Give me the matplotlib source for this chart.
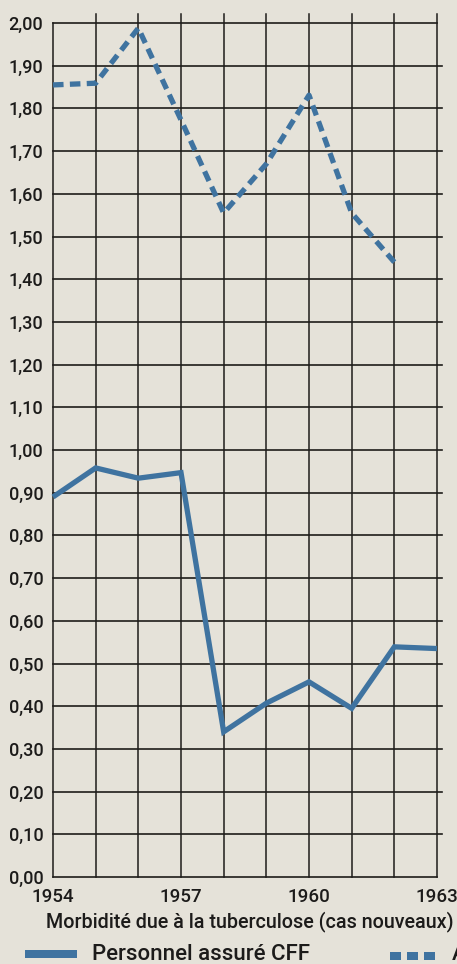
import matplotlib
matplotlib.use("Agg")
import matplotlib.pyplot as plt
from matplotlib.patches import Rectangle

years = [1954, 1955, 1956, 1957, 1958, 1959, 1960, 1961, 1962, 1963]
cff_values = [0.89, 0.958, 0.934, 0.947, 0.340, 0.407, 0.457, 0.395, 0.539, 0.535]
other_years = [1954, 1955, 1956, 1957, 1958, 1959, 1960, 1961, 1962]
other_values = [1.855, 1.859, 1.988, 1.773, 1.555, 1.67, 1.831, 1.555, 1.44]
y_ticks = [i / 10 for i in range(0, 21)]
y_labels = [f"{v:.2f}".replace(".", ",") for v in y_ticks]
x_labels = ["1954", "1957", "1960", "1963"]
x_label_pos = [1954, 1957, 1960, 1963]
title = "Morbidité due à la tuberculose (cas nouveaux)"
legend_solid = "Personnel assuré CFF"
legend_dashed = "Autres"

bg = "#e5e2d9"
blue = "#3f73a0"
gridc = "#1e1c1a"
textc = "#1c1b1a"
font = "Roboto"
fw = "medium"

fig = plt.figure(figsize=(4.57, 9.64), dpi=100)
fig.patch.set_facecolor(bg)
ax = fig.add_axes([53 / 457, (964 - 877) / 964, 384 / 457, 854 / 964])
ax.set_facecolor(bg)
ax.set_xlim(1954, 1963)
ax.set_ylim(0, 2.0)

# grid lines
for y in y_ticks:
    xe = 1963.11 if 0 < y < 2.0 else 1963
    ax.plot([1954, xe], [y, y], color=gridc, lw=1.2, clip_on=False, zorder=1)
for x in years:
    ye = 2.0 if x == 1954 else 2.022
    ax.plot([x, x], [0, ye], color=gridc, lw=1.1, clip_on=False, zorder=1)

for s in ax.spines.values():
    s.set_visible(False)
ax.tick_params(length=0)
ax.set_yticks(y_ticks)
ax.set_yticklabels(y_labels, fontsize=13, family=font, color=textc, fontweight=fw)
ax.set_xticks(x_label_pos)
ax.set_xticklabels(x_labels, fontsize=13.5, family=font, color=textc, fontweight=fw)
ax.tick_params(axis="y", pad=7)
ax.tick_params(axis="x", pad=8)

ax.plot(years, cff_values, color=blue, lw=3.8, solid_joinstyle="miter",
        solid_capstyle="butt", zorder=3, clip_on=False)
ax.plot(other_years, other_values, color=blue, lw=3.8, linestyle=(0, (2.0, 1.2)),
        dash_capstyle="butt", zorder=3, clip_on=False)

fig.text(250 / 457, 1 - 922 / 964, title, ha="center", va="center",
         fontsize=14.2, family=font, color=textc, fontweight=fw)

# legend
fig.patches.append(Rectangle((25 / 457, 1 - 958 / 964), 52 / 457, 8 / 964,
                             transform=fig.transFigure, facecolor=blue, edgecolor="none"))
fig.text(92 / 457, 1 - 954 / 964, legend_solid, ha="left", va="center",
         fontsize=16, family=font, color=textc, fontweight=fw)
for x0 in [390, 407, 424]:
    fig.patches.append(Rectangle((x0 / 457, 1 - 960 / 964), 11 / 457, 8 / 964,
                                 transform=fig.transFigure, facecolor=blue, edgecolor="none"))
fig.text(452 / 457, 1 - 954 / 964, legend_dashed, ha="left", va="center",
         fontsize=16, family=font, color=textc, fontweight=fw)

fig.savefig("out.png", dpi=100, facecolor=bg)
